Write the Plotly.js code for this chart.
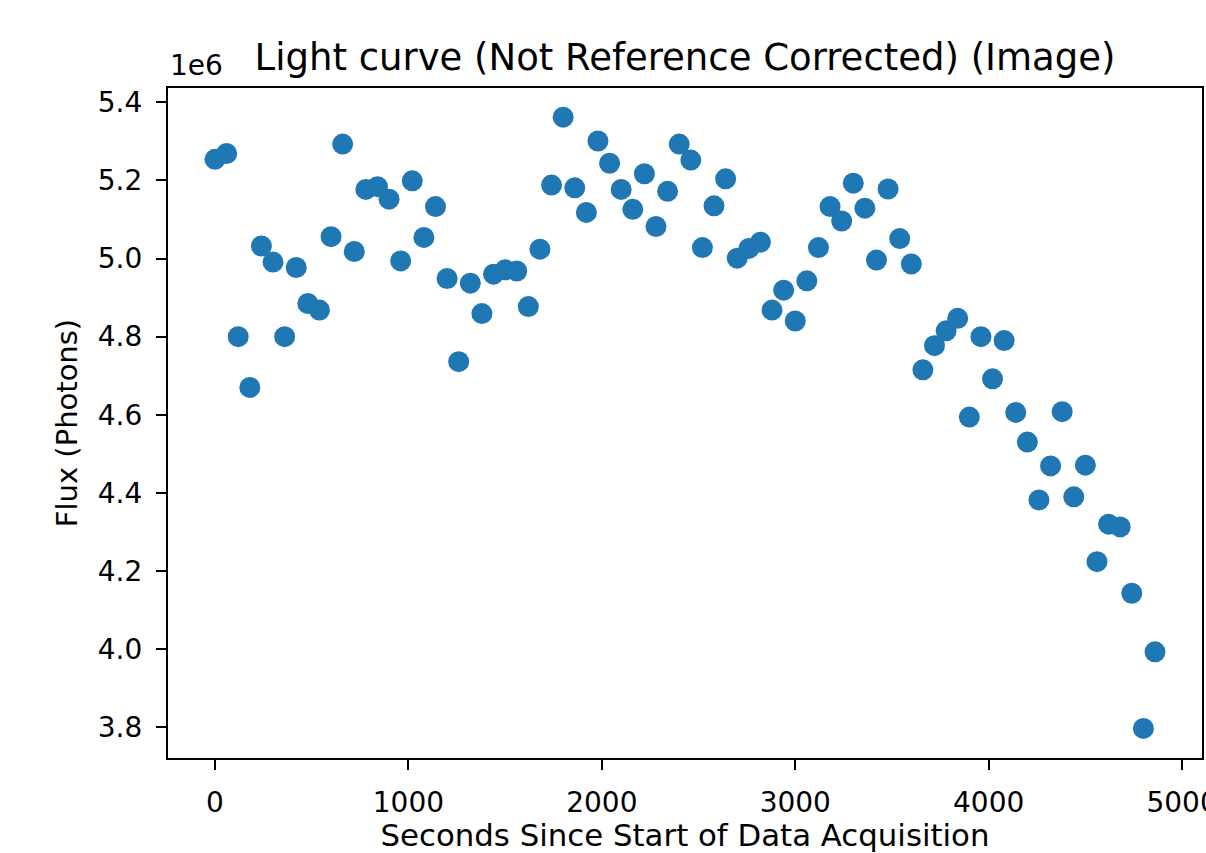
<!DOCTYPE html>
<html>
<head>
<meta charset="utf-8">
<script src="https://cdn.plot.ly/plotly-3.0.1.min.js"></script>
<style>
  html, body { margin: 0; padding: 0; background: #fff; }
  #chart { width: 1206px; height: 853px; }
</style>
</head>
<body>
<div id="chart"></div>
<script>
// Seconds since start of data acquisition (60 s cadence)
const seconds = [
  0, 60, 120, 180, 240, 300, 360, 420, 480, 540,
  600, 660, 720, 780, 840, 900, 960, 1020, 1080, 1140,
  1200, 1260, 1320, 1380, 1440, 1500, 1560, 1620, 1680, 1740,
  1800, 1860, 1920, 1980, 2040, 2100, 2160, 2220, 2280, 2340,
  2400, 2460, 2520, 2580, 2640, 2700, 2760, 2820, 2880, 2940,
  3000, 3060, 3120, 3180, 3240, 3300, 3360, 3420, 3480, 3540,
  3600, 3660, 3720, 3780, 3840, 3900, 3960, 4020, 4080, 4140,
  4200, 4260, 4320, 4380, 4440, 4500, 4560, 4620, 4680, 4740,
  4800, 4860
];

// Flux in units of 1e6 photons (axis offset label "1e6")
const fluxMillions = [
  5.254, 5.269, 4.800, 4.670, 5.032, 4.991, 4.800, 4.977, 4.885, 4.868,
  5.056, 5.293, 5.018, 5.177, 5.184, 5.152, 4.994, 5.199, 5.054, 5.133,
  4.949, 4.736, 4.937, 4.859, 4.960, 4.971, 4.968, 4.877, 5.024, 5.188,
  5.362, 5.181, 5.118, 5.301, 5.244, 5.177, 5.126, 5.217, 5.082, 5.172,
  5.293, 5.252, 5.028, 5.135, 5.204, 5.001, 5.026, 5.042, 4.868, 4.919,
  4.840, 4.943, 5.028, 5.133, 5.096, 5.193, 5.129, 4.996, 5.178, 5.051,
  4.986, 4.715, 4.777, 4.815, 4.847, 4.594, 4.800, 4.692, 4.790, 4.606,
  4.530, 4.382, 4.469, 4.608, 4.390, 4.471, 4.224, 4.320, 4.313, 4.143,
  3.797, 3.993
];

const xTickVals = [0, 1000, 2000, 3000, 4000, 5000];
const xTickText = ['0', '1000', '2000', '3000', '4000', '5000'];
const yTickVals = [3.8, 4.0, 4.2, 4.4, 4.6, 4.8, 5.0, 5.2, 5.4];
const yTickText = ['3.8', '4.0', '4.2', '4.4', '4.6', '4.8', '5.0', '5.2', '5.4'];

const titleText = 'Light curve (Not Reference Corrected) (Image)';
const xLabel = 'Seconds Since Start of Data Acquisition';
const yLabel = 'Flux (Photons)';
const offsetLabel = '1e6';

const FONT = 'DejaVu Sans, sans-serif';

const trace = {
  x: seconds,
  y: fluxMillions,
  type: 'scatter',
  mode: 'markers',
  marker: { color: '#1f77b4', size: 21, line: { width: 0 } },
  hoverinfo: 'x+y',
  showlegend: false
};

const axisCommon = {
  showgrid: false,
  zeroline: false,
  showline: true,
  linecolor: '#000',
  linewidth: 2.2,
  mirror: true,
  ticks: 'outside',
  ticklen: 10,
  tickwidth: 2.2,
  tickcolor: '#000',
  tickfont: { family: FONT, size: 28, color: '#000' },
  automargin: false
};

const layout = {
  width: 1206,
  height: 853,
  paper_bgcolor: '#fff',
  plot_bgcolor: '#fff',
  margin: { l: 168, r: 4, t: 88, b: 95, pad: 0 },
  font: { family: FONT, color: '#000' },
  title: {
    text: titleText,
    font: { family: FONT, size: 37, color: '#000' },
    x: 0.5, xref: 'paper', xanchor: 'center',
    y: 1 - 57 / 853, yref: 'container', yanchor: 'middle'
  },
  xaxis: Object.assign({}, axisCommon, {
    range: [-243, 5103],
    tickvals: xTickVals,
    ticktext: xTickText,
    ticklabelstandoff: 8,
    ticklabeloverflow: 'allow',
    title: { text: xLabel, font: { family: FONT, size: 30.8, color: '#000' } }
  }),
  yaxis: Object.assign({}, axisCommon, {
    range: [3.7213, 5.4366],
    tickvals: yTickVals,
    ticktext: yTickText,
    ticklabelstandoff: 8,
    title: { text: yLabel, standoff: 12, font: { family: FONT, size: 29, color: '#000' } }
  }),
  annotations: [{
    text: offsetLabel,
    xref: 'paper', yref: 'paper',
    x: 0, y: 1,
    xanchor: 'left', yanchor: 'bottom',
    yshift: 4,
    showarrow: false,
    font: { family: FONT, size: 28, color: '#000' }
  }]
};

Plotly.newPlot('chart', [trace], layout, { displayModeBar: false });
</script>
</body>
</html>
